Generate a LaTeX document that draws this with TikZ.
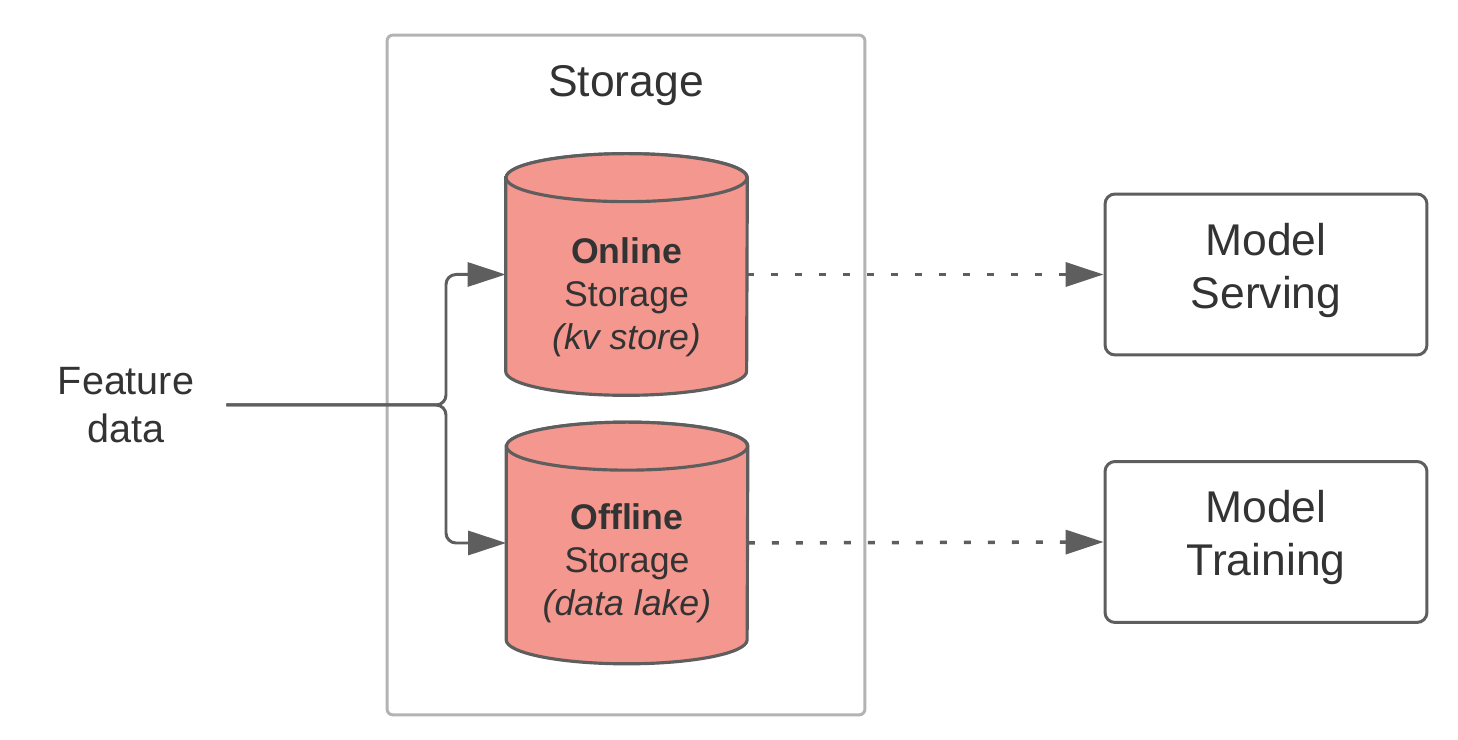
\documentclass[tikz,border=0pt]{standalone}
\usepackage{fontspec}
\setmainfont{Liberation Sans}
\usetikzlibrary{arrows.meta, positioning, calc}

\definecolor{linegray}{HTML}{5E5E5E}
\definecolor{boxgray}{HTML}{B3B3B3}
\definecolor{textgray}{HTML}{333333}
\definecolor{salmon}{HTML}{F4978E}

\begin{document}
\begin{tikzpicture}[
    x=0.02cm, y=0.02cm,
    >={Triangle[length=0.76cm, width=0.48cm]},
    every node/.style={text=textgray},
    group/.style={rectangle, draw=boxgray, line width=1.7pt, rounded corners=0.12cm, minimum width=9.56cm, minimum height=13.6cm},
    dbshape/.style={rectangle, draw=none, inner sep=0pt, minimum width=4.82cm, minimum height=4.82cm},
    cyl/.style={draw=linegray, fill=salmon, line width=1.8pt},
    dbtext/.style={align=center, font=\fontsize{20.3}{24.4}\selectfont},
    comp/.style={rectangle, draw=linegray, line width=1.7pt, rounded corners=0.2cm, minimum width=6.44cm, minimum height=3.22cm, align=center, text depth=0.35cm, font=\fontsize{25.3}{30}\selectfont},
    flow/.style={->, draw=linegray, line width=1.7pt, rounded corners=0.2cm},
    feed/.style={->, draw=linegray, line width=2pt, dash pattern=on 0.14cm off 0.34cm}
]
\useasboundingbox (0,0) rectangle (1458,740);

% Storage group
\node (Storage) at (626,365) [group] {};
\node (StorageTitle) at (626,643) [anchor=base, font=\fontsize{25.3}{30}\selectfont] {Storage};

% Databases
\node (Online) at (626.5,465.5) [dbshape] {};
\node (Offline) at (627,197) [dbshape] {};
\foreach \db in {Online, Offline} {
  \draw[cyl] ([yshift=-0.48cm]\db.north west) -- ([yshift=0.48cm]\db.south west)
    arc[start angle=180, end angle=360, x radius=2.41cm, y radius=0.48cm]
    -- ([yshift=-0.48cm]\db.north east)
    arc[start angle=0, end angle=180, x radius=2.41cm, y radius=0.48cm] -- cycle;
  \draw[cyl] ([yshift=-0.48cm]\db.north) ellipse[x radius=2.41cm, y radius=0.48cm];
}
\node (OnlineTxt) at ([yshift=-0.45cm]Online.center) [dbtext] {\textbf{Online}\\Storage\\\textit{(kv store)}};
\node (OfflineTxt) at ([yshift=-0.4cm]Offline.center) [dbtext] {\textbf{Offline}\\Storage\\\textit{(data lake)}};

% Consumers
\node (Serving) at (1266,465.5) [comp] {Model\\Serving};
\node (Training) at (1266,198) [comp] {Model\\Training};

% Input
\node (Feature) at (126,335) [align=center, inner xsep=0.64cm, font=\fontsize{22.5}{27.2}\selectfont] {Feature\\data};
\coordinate (Fork) at (446,335);
\draw[flow] (Feature.east) -- (Fork) |- (Online.west);
\draw[flow] (Feature.east) -- (Fork) |- (Offline.west);

% Outputs
\draw[feed] (Online.east) -- (Serving.west);
\draw[feed] (Offline.east) -- (Training.west);
\end{tikzpicture}
\end{document}
